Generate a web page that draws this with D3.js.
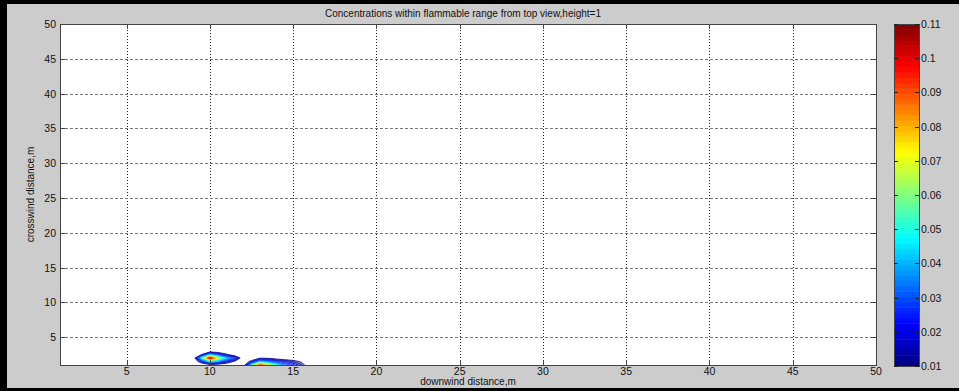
<!DOCTYPE html>
<html>
<head>
<meta charset="utf-8">
<script src="https://cdn.jsdelivr.net/npm/d3@7"></script>
<style>
  body { margin: 0; background: #cccccc; }
  svg { display: block; font-family: "Liberation Sans", Arial, sans-serif; }
</style>
</head>
<body>
<div class="container"></div>
<script>
var title = 'Concentrations within flammable range from top view,height=1'
var xLabel = 'downwind distance,m'
var yLabel = 'crosswind distance,m'

var xTicks = [5, 10, 15, 20, 25, 30, 35, 40, 45, 50]
var yTicks = [5, 10, 15, 20, 25, 30, 35, 40, 45, 50]
var cbTicks = [0.01, 0.02, 0.03, 0.04, 0.05, 0.06, 0.07, 0.08, 0.09, 0.1, 0.11]

// sample grid of the concentration field
var gridX = [8.5, 9, 9.5, 10, 10.5, 11, 11.5, 12, 12.5, 13, 13.5, 14, 14.5, 15, 15.5, 16, 16.5]
var gridY = [1, 1.5, 2, 2.5, 3]
var concY1   = [0, 0, 0, 0.004, 0.002, 0, 0, 0, 0.05, 0.095, 0.075, 0.05, 0.035, 0.026, 0.016, 0, 0]
var concY1_5 = [0, 0, 0.018, 0.045, 0.034, 0.02, 0.008, 0, 0.014, 0.04, 0.032, 0.026, 0.021, 0.015, 0.008, 0, 0]
var concY2   = [0, 0, 0.05, 0.105, 0.07, 0.042, 0.028, 0, 0, 0.009, 0.008, 0.004, 0, 0, 0, 0, 0]
var concY2_5 = [0, 0, 0.01, 0.04, 0.025, 0.012, 0, 0, 0, 0, 0, 0, 0, 0, 0, 0, 0]
var concY3   = [0, 0, 0, 0, 0, 0, 0, 0, 0, 0, 0, 0, 0, 0, 0, 0, 0]
var levels = [0.01, 0.015, 0.02, 0.025, 0.03, 0.035, 0.04, 0.045, 0.05, 0.055, 0.06,
  0.065, 0.07, 0.075, 0.08, 0.085, 0.09, 0.095, 0.1, 0.105]

var W = 959, H = 391
var plot = { left: 60, right: 876, top: 24, bottom: 365 }
var cb = { left: 894, right: 919, top: 24, bottom: 366 }

function jet(t) {
  function c(v) { return Math.max(0, Math.min(1, v)) * 255 }
  return d3.rgb(c(1.5 - Math.abs(4 * t - 3)), c(1.5 - Math.abs(4 * t - 2)), c(1.5 - Math.abs(4 * t - 1))).formatHex()
}

var x = d3.scaleLinear().domain([1, 50]).range([plot.left, plot.right])
var y = d3.scaleLinear().domain([1, 50]).range([plot.bottom, plot.top])
var cScale = d3.scaleLinear().domain([0.01, 0.11]).range([cb.bottom, cb.top])
var tScale = d3.scaleLinear().domain([0.01, 0.11]).range([0, 1]).clamp(true)

var svg = d3.select('.container').append('svg')
  .attr('width', W)
  .attr('height', H)

svg.append('rect').attr('width', W).attr('height', H).attr('fill', '#cccccc')

// outer frame
svg.append('rect').attr('x', 0).attr('y', 0).attr('width', W).attr('height', 4).attr('fill', '#000')
svg.append('rect').attr('x', 0).attr('y', 0).attr('width', 7).attr('height', H).attr('fill', '#000')
svg.append('rect').attr('x', 0).attr('y', 388).attr('width', W).attr('height', 3).attr('fill', '#000')

svg.append('defs').append('clipPath').attr('id', 'clip')
  .append('rect')
    .attr('x', plot.left).attr('y', plot.top)
    .attr('width', plot.right - plot.left).attr('height', plot.bottom - plot.top)

svg.append('rect')
  .attr('x', plot.left).attr('y', plot.top)
  .attr('width', plot.right - plot.left).attr('height', plot.bottom - plot.top)
  .attr('fill', '#fff')

// grid
svg.append('g').selectAll('line')
  .data(xTicks.filter(function(d) { return d < 50 }))
  .enter().append('line')
    .attr('x1', function(d) { return Math.round(x(d)) + 0.5 })
    .attr('x2', function(d) { return Math.round(x(d)) + 0.5 })
    .attr('y1', plot.top).attr('y2', plot.bottom)
    .attr('stroke', '#222').attr('stroke-dasharray', '1,2')

svg.append('g').selectAll('line')
  .data(yTicks.filter(function(d) { return d < 50 }))
  .enter().append('line')
    .attr('y1', function(d) { return Math.round(y(d)) + 0.5 })
    .attr('y2', function(d) { return Math.round(y(d)) + 0.5 })
    .attr('x1', plot.left).attr('x2', plot.right)
    .attr('stroke', '#777').attr('stroke-dasharray', '3,2')

// contours
var nx = gridX.length, ny = gridY.length
var values = [].concat(concY1, concY1_5, concY2, concY2_5, concY3)
var dx = gridX[1] - gridX[0], dy = gridY[1] - gridY[0]
var contours = d3.contours().size([nx, ny]).thresholds(levels)(values)

function toPath(geom) {
  return geom.coordinates.map(function(poly) {
    return poly.map(function(ring) {
      return 'M' + ring.map(function(p) {
        return [x(gridX[0] + (p[0] - 0.5) * dx), y(gridY[0] + (p[1] - 0.5) * dy)].join(',')
      }).join('L') + 'Z'
    }).join('')
  }).join('')
}

svg.append('g').attr('clip-path', 'url(#clip)')
  .selectAll('path')
  .data(contours)
  .enter().append('path')
    .attr('d', toPath)
    .attr('fill', function(d) { return d3.interpolateRgb('#ffffff', jet(tScale(d.value)))(0.45) })
    .attr('stroke', function(d) { return jet(tScale(d.value)) })
    .attr('stroke-width', 0.8)
    .attr('stroke-linejoin', 'round')

// axes box with inward ticks
var axisColor = '#444'
svg.append('rect')
  .attr('x', plot.left + 0.5).attr('y', plot.top + 0.5)
  .attr('width', plot.right - plot.left).attr('height', plot.bottom - plot.top)
  .attr('fill', 'none').attr('stroke', axisColor)

var tickLen = 5
var ticks = svg.append('g').attr('stroke', axisColor)
xTicks.forEach(function(d) {
  var px = Math.round(x(d)) + 0.5
  ticks.append('line').attr('x1', px).attr('x2', px).attr('y1', plot.bottom).attr('y2', plot.bottom - tickLen)
  ticks.append('line').attr('x1', px).attr('x2', px).attr('y1', plot.top).attr('y2', plot.top + tickLen)
})
yTicks.forEach(function(d) {
  var py = Math.round(y(d)) + 0.5
  ticks.append('line').attr('y1', py).attr('y2', py).attr('x1', plot.left).attr('x2', plot.left + tickLen)
  ticks.append('line').attr('y1', py).attr('y2', py).attr('x1', plot.right).attr('x2', plot.right - tickLen)
})

var labels = svg.append('g').attr('font-size', 10.5).attr('fill', '#111')
labels.selectAll('.xt').data(xTicks).enter().append('text')
  .attr('x', function(d) { return x(d) }).attr('y', 375)
  .attr('text-anchor', 'middle').text(function(d) { return d })
labels.selectAll('.yt').data(yTicks).enter().append('text')
  .attr('x', 56).attr('y', function(d) { return y(d) + 4 })
  .attr('text-anchor', 'end').text(function(d) { return d })

svg.append('text').attr('x', (plot.left + plot.right) / 2).attr('y', 385)
  .attr('text-anchor', 'middle').attr('font-size', 10).attr('fill', '#111').text(xLabel)
svg.append('text').attr('transform', 'translate(34,' + (plot.top + plot.bottom) / 2 + ') rotate(-90)')
  .attr('text-anchor', 'middle').attr('font-size', 10).attr('fill', '#111').text(yLabel)
svg.append('text').attr('x', 463).attr('y', 17)
  .attr('text-anchor', 'middle').attr('font-size', 10).attr('fill', '#111').text(title)

// colorbar, 64 steps like a jet map
var steps = d3.range(64)
svg.append('g').selectAll('rect')
  .data(steps)
  .enter().append('rect')
    .attr('x', cb.left)
    .attr('width', cb.right - cb.left)
    .attr('y', function(i) { return cScale(0.01 + (i + 1) * 0.1 / 64) })
    .attr('height', function(i) { return cScale(0.01 + i * 0.1 / 64) - cScale(0.01 + (i + 1) * 0.1 / 64) + 0.5 })
    .attr('fill', function(i) { return jet((i + 0.5) / 64) })

svg.append('rect')
  .attr('x', cb.left + 0.5).attr('y', cb.top + 0.5)
  .attr('width', cb.right - cb.left).attr('height', cb.bottom - cb.top)
  .attr('fill', 'none').attr('stroke', axisColor)

var cbt = svg.append('g').attr('stroke', '#222')
cbTicks.forEach(function(d) {
  var py = Math.round(cScale(d)) + 0.5
  cbt.append('line').attr('y1', py).attr('y2', py).attr('x1', cb.left).attr('x2', cb.left + 4)
  cbt.append('line').attr('y1', py).attr('y2', py).attr('x1', cb.right).attr('x2', cb.right - 4)
})
svg.append('g').attr('font-size', 10.5).attr('fill', '#111')
  .selectAll('text').data(cbTicks).enter().append('text')
    .attr('x', cb.right + 2).attr('y', function(d) { return cScale(d) + 4 })
    .text(function(d) { return d })
</script>
</body>
</html>
